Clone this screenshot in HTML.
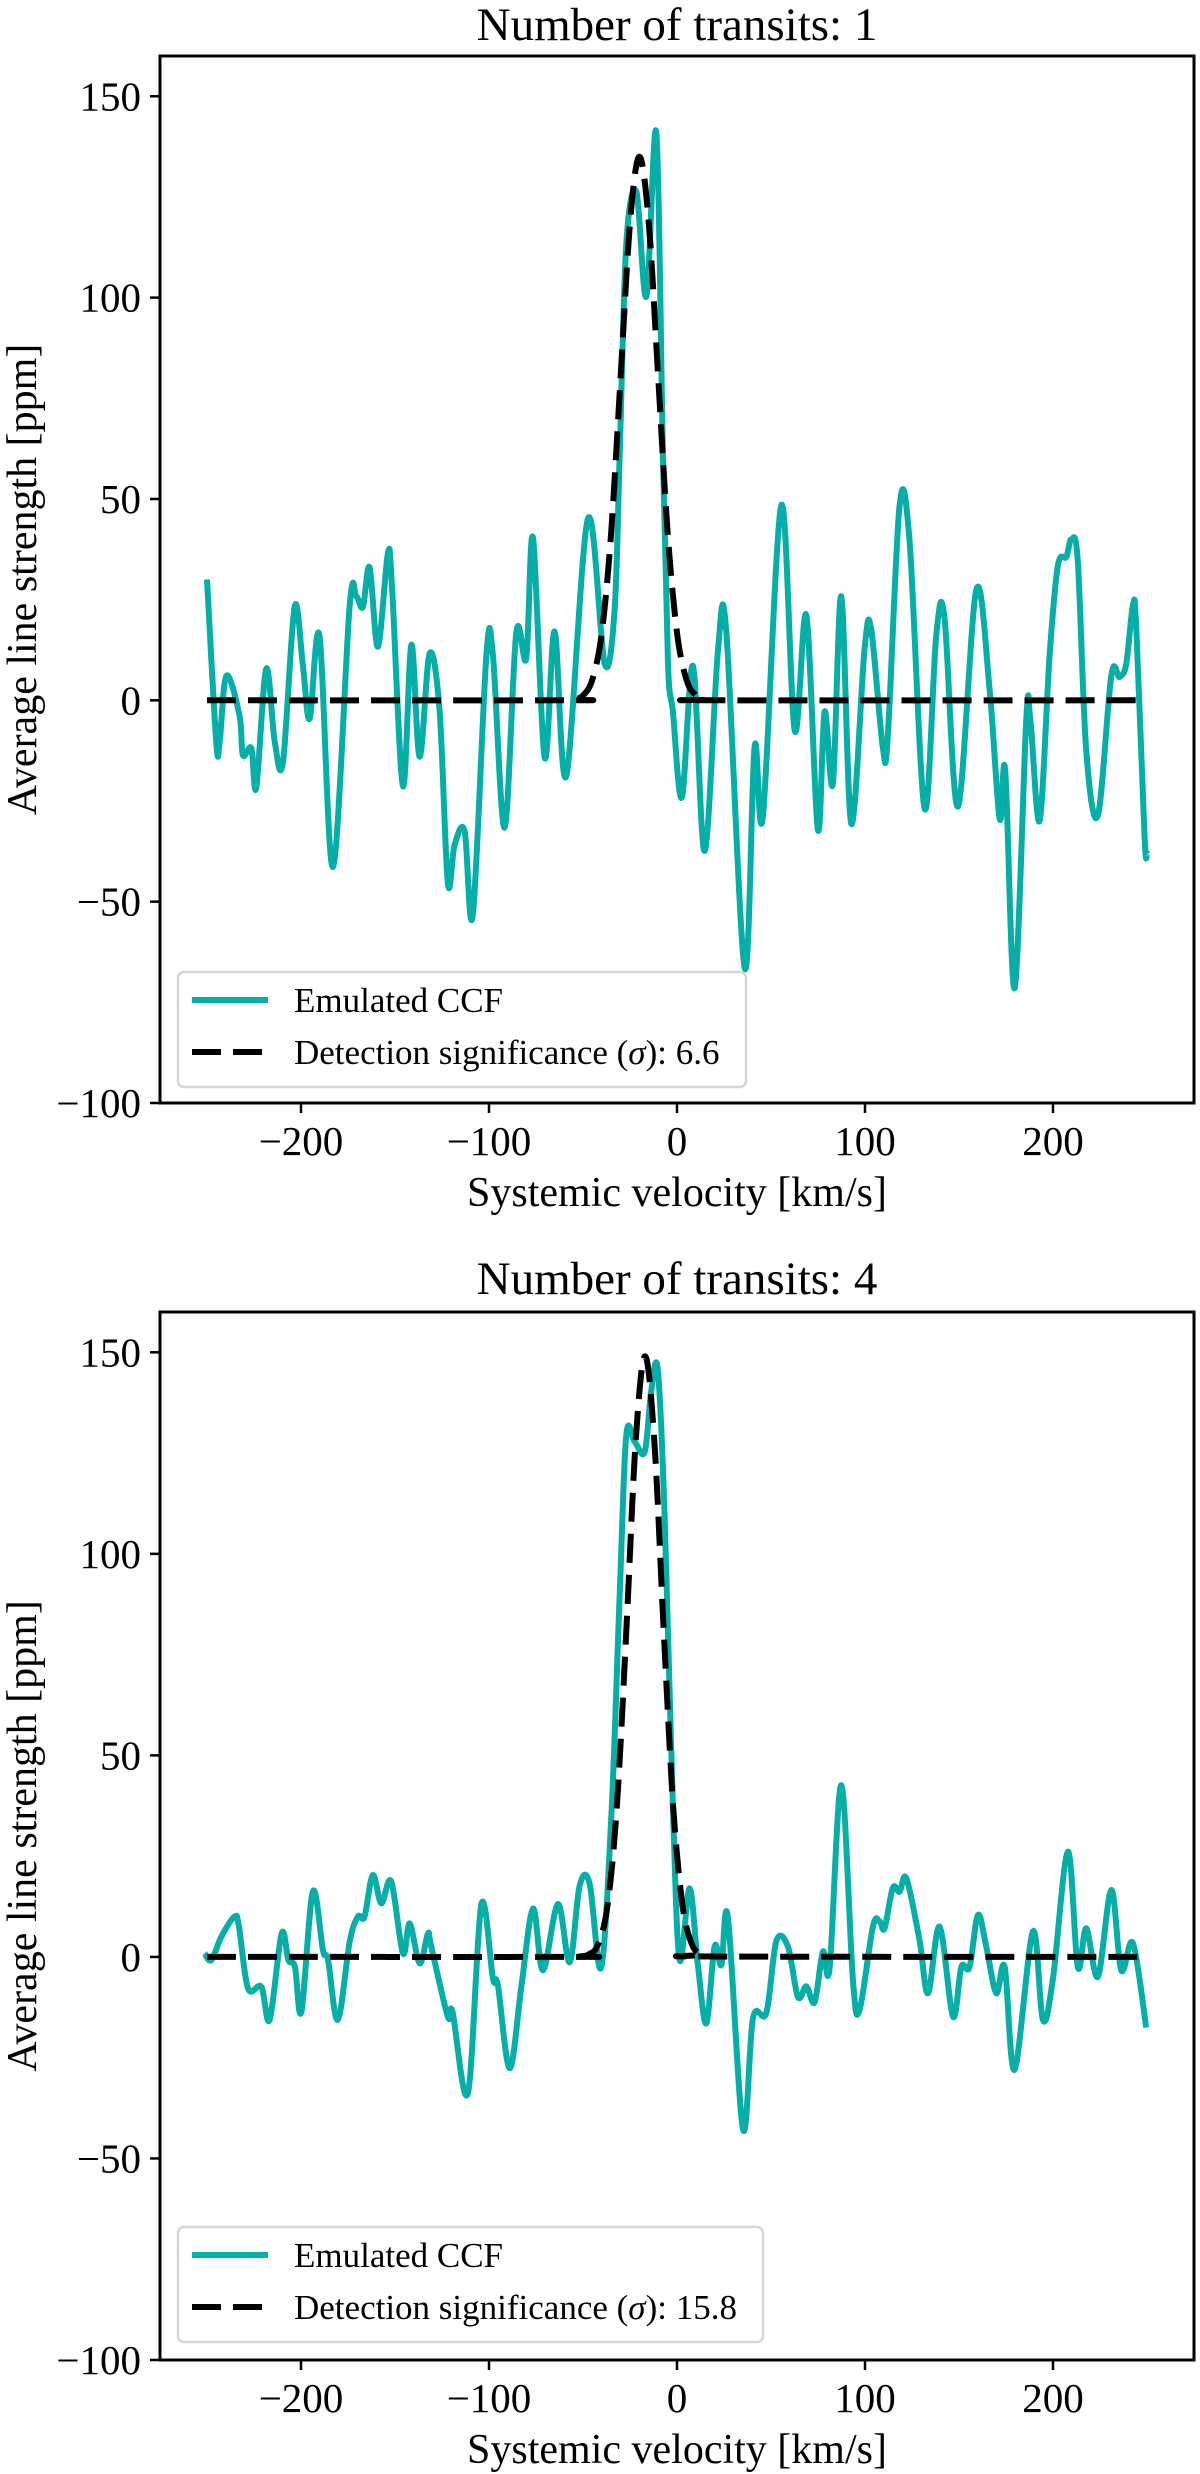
<!DOCTYPE html>
<html><head><meta charset="utf-8"><style>
html,body{margin:0;padding:0;background:#fff;}
svg{display:block;font-family:"Liberation Serif","DejaVu Serif",serif;}
</style></head><body>
<svg id="fig" width="1200" height="2474" viewBox="0 0 1200 2474" xmlns="http://www.w3.org/2000/svg"></svg>
<script>
// ---- Panel 1 data (1 transit) ----
const ccf1X = [-250,-245.1,-243.3,-239.7,-232.7,-230.9,-226.4,-223.8,-218.5,-214,-209.6,-203.4,-199,-195.4,-190.1,-183,-174.1,-170.6,-167.1,-163.5,-159.1,-153.8,-151.6,-145.8,-141.3,-136.9,-131.6,-126.3,-121.9,-118.3,-113,-108.6,-101.4,-97.9,-91.7,-85.5,-80.2,-76.6,-70.4,-65.1,-58.9,-47.4,-38.5,-33.2,-30.5,-27,-21.6,-16.3,-11,-7.5,-4.8,-2.2,2.6,8.5,14.7,21.8,26.2,36,41.3,45.7,55.5,62.6,68.8,74.9,78.5,82.9,87.4,92.7,99.8,103.3,109.5,112.2,118.4,123.7,131.7,137.9,142.3,149.4,159.2,166.3,171.6,174.6,179.6,185.8,188,192.9,198.2,202.6,207.1,209.7,213.2,217.7,223.9,231,235.4,239,242.5,244.3,248.7,250];
const ccf1Y = [30,-10.2,-10.5,6.1,-3.8,-13.6,-11.9,-21.7,7.8,-10.2,-15.3,23.2,8.6,-4.6,15.9,-41.4,23.6,25.8,23.2,33,13.3,36.5,28.3,-21.3,13.8,-14,11.6,-2.5,-45.3,-35.9,-32.4,-53.3,11.2,11.2,-31.6,16.8,10.4,40.3,-14.2,17.1,-18.8,45.1,9.1,22.4,61,113,126.3,100.3,140.9,61,9.1,-2.8,-24.1,8.5,-37.4,12.5,17.1,-66.5,-11.5,-28.8,48.4,-7.5,21.1,-32.1,-2.8,-20.7,25.8,-30.7,12.9,17.6,-11.9,-8.5,48.4,39.5,-26.9,16.3,20.6,-26.4,27.5,2.7,-29.4,-17.4,-71.5,-4.6,-5,-29.9,11.2,33.5,35.6,39.9,34.6,-12.7,-28.6,6.1,5.8,9.1,23.6,18,-34,-38];
const fit1X = [-250,-60,-55,-50,-45,-40,-35,-30,-25,-20,-15,-10,-5,0,5,10,15,20,250];
const fit1Y = [0,0,0.2,1.2,5.2,16.8,41.8,80.2,118.5,135,118.5,80.2,41.8,16.8,5.2,1.2,0.2,0,0];
const sig1 = "6.6";

// ---- Panel 2 data (4 transits) ----
const ccf2X = [-251.3,-247.7,-242.4,-235.3,-233,-228.2,-221.1,-216.7,-210.3,-206.7,-203.2,-199.8,-193.7,-188.3,-185.6,-180.4,-174.1,-169.7,-166.2,-161.8,-157.3,-152,-145.8,-142.2,-136.9,-132.5,-130.7,-121.9,-119.4,-111.2,-104.1,-97.9,-95.3,-89,-82.8,-76.6,-71.3,-63.3,-57.1,-51.8,-46.5,-40.3,-34.7,-30.5,-27,-22.6,-17.2,-13.7,-10.2,-6.6,-2.2,1.4,6.7,11.1,15.6,20,23.6,27.1,35.1,40.4,47.5,52.8,59,64.3,68.8,73.2,77.6,81.2,87.4,93.6,97.1,104.2,107.8,110.4,114.8,118.4,122,129,133.5,139.7,146.8,151.2,155.6,160.1,164.5,169.8,174.3,179.6,189.3,194.6,199.9,207.9,213.2,217.7,223.9,231,236.3,242.5,249.6];
const ccf2Y = [0.9,-0.8,5,10,7.5,-7.8,-7.4,-15.6,5.8,-0.8,-2.5,-13.6,16.2,1.6,-0.8,-15.6,3.8,10,10,20.3,13.3,18.7,0.9,8.3,-1.6,5.8,2.5,-14.8,-13.6,-33.8,13,-5.3,-6.9,-27.6,-7.4,12,-3.3,13.1,-1.3,17.6,18.2,-2.6,37.3,89.9,129.2,127.9,125.3,140.4,145.7,109.6,37.3,-0.7,17,-2,-16.5,2.6,-2,9.8,-42.8,-15.2,-13.9,3.9,2.6,-9.9,-7.3,-11.2,1.3,-2.6,42.6,-5.9,-13.2,7.5,8.8,7.1,17.1,16.2,19.5,4.2,-9,7.5,-14.8,-2.5,-2.5,10.4,2.5,-9,-2.5,-28,6.3,-15.6,-5.7,26.1,-2.5,7.1,-4.9,16.6,-3.3,3.4,-17.5];
const fit2X = [-250,-57,-52,-47,-42,-37,-32,-27,-22,-17,-12,-7,-2,3,8,13,18,250];
const fit2Y = [0,0,0.1,0.6,3.1,12.6,37.2,80.4,127.7,149,127.7,80.4,37.2,12.6,3.1,0.6,0.1,0];
const sig2 = "15.8";

const xTicks = [-200,-100,0,100,200];
const yTicks = [-100,-50,0,50,100,150];
const titles = ["Number of transits: 1","Number of transits: 4"];

const NS = "http://www.w3.org/2000/svg";
const svg = document.getElementById('fig');
function mk(tag, attrs, parent){ const e=document.createElementNS(NS,tag); for(const k in attrs) e.setAttribute(k,attrs[k]); (parent||svg).appendChild(e); return e; }

// Catmull-Rom smoothed path through screen points
function smoothPath(pts){
  let d = 'M' + pts[0][0].toFixed(1) + ',' + pts[0][1].toFixed(1);
  for (let i = 0; i < pts.length - 1; i++) {
    const p0 = pts[Math.max(0,i-1)], p1 = pts[i], p2 = pts[i+1], p3 = pts[Math.min(pts.length-1,i+2)];
    const c1x = p1[0] + (p2[0]-p0[0])/6, c1y = p1[1] + (p2[1]-p0[1])/6;
    const c2x = p2[0] - (p3[0]-p1[0])/6, c2y = p2[1] - (p3[1]-p1[1])/6;
    d += 'C' + c1x.toFixed(1)+','+c1y.toFixed(1)+' '+c2x.toFixed(1)+','+c2y.toFixed(1)+' '+p2[0].toFixed(1)+','+p2[1].toFixed(1);
  }
  return d;
}

const TEAL = "#05afa7";
const panels = [
  {top:56, bottom:1103, cx:ccf1X, cy:ccf1Y, fx:fit1X, fy:fit1Y, sig:sig1, title:titles[0], tb:40, leg:{x:178, y:972, w:568, h:115}},
  {top:1312, bottom:2360, cx:ccf2X, cy:ccf2Y, fx:fit2X, fy:fit2Y, sig:sig2, title:titles[1], tb:1294, leg:{x:178, y:2227, w:585, h:115}}
];
const L = 160, R = 1194, XMIN = -275, XMAX = 275, YMIN = -100, YMAX = 160;

panels.forEach((p, i) => {
  const g = mk('g', {});
  
  
  const sx = v => L + (v - XMIN) / (XMAX - XMIN) * (R - L);
  const sy = v => p.bottom - (v - YMIN) / (YMAX - YMIN) * (p.bottom - p.top);

  const clipId = 'clip' + i;
  const cp = mk('clipPath', {id: clipId}, g);
  mk('rect', {x:L, y:p.top, width:R-L, height:p.bottom-p.top}, cp);

  const d1 = smoothPath(p.cx.map((v,k)=>[sx(v), sy(p.cy[k])]));
  const ccf = mk('path', {d:d1, fill:'none', stroke:TEAL, 'stroke-width':6, 'stroke-linejoin':'round', 'clip-path':'url(#'+clipId+')'}, g);
  
  

  const d2 = smoothPath(p.fx.map((v,k)=>[sx(v), sy(p.fy[k])]));
  const fit = mk('path', {d:d2, fill:'none', stroke:'#000', 'stroke-width':6, 'stroke-dasharray':'29,12', 'clip-path':'url(#'+clipId+')'}, g);
  
  

  const fr = mk('rect', {x:L, y:p.top, width:R-L, height:p.bottom-p.top, fill:'none', stroke:'#000', 'stroke-width':3}, g);
  
  

  xTicks.forEach(t => {
    const x = sx(t);
    mk('line', {x1:x, x2:x, y1:p.bottom, y2:p.bottom+10, stroke:'#000', 'stroke-width':2.5}, g);
    const tx = mk('text', {x:x, y:p.bottom+52, 'font-size':41, 'text-anchor':'middle'}, g);
    
    
    tx.textContent = t < 0 ? '\u2212' + Math.abs(t) : String(t);
  });
  yTicks.forEach(t => {
    const y = sy(t);
    mk('line', {x1:L-10, x2:L, y1:y, y2:y, stroke:'#000', 'stroke-width':2.5}, g);
    const ty = mk('text', {x:L-19, y:y+14, 'font-size':41, 'text-anchor':'end'}, g);
    
    
    ty.textContent = t < 0 ? '\u2212' + Math.abs(t) : String(t);
  });

  const tt = mk('text', {x:(L+R)/2, y:p.tb, 'font-size':47, 'text-anchor':'middle'}, g);
  
  
  tt.textContent = p.title;

  const xl = mk('text', {x:(L+R)/2, y:p.bottom+103, 'font-size':42, 'text-anchor':'middle'}, g);
  
  
  xl.textContent = 'Systemic velocity [km/s]';

  const yc = (p.top + p.bottom) / 2;
  const yl = mk('text', {x:0, y:0, 'font-size':42, 'text-anchor':'middle', transform:'translate(36,'+yc+') rotate(-90)'}, g);
  
  
  yl.textContent = 'Average line strength [ppm]';

  const lg = mk('g', {}, g);
  
  
  mk('rect', {x:p.leg.x, y:p.leg.y, width:p.leg.w, height:p.leg.h, rx:6, fill:'#fff', 'fill-opacity':0.8, stroke:'#d6d6d6', 'stroke-width':2.5}, lg);
  const r1 = p.leg.y + 28, r2 = p.leg.y + 80;
  const e1 = mk('g', {}, lg);
  
  
  mk('line', {x1:192, x2:268, y1:r1, y2:r1, stroke:TEAL, 'stroke-width':6}, e1);
  const t1 = mk('text', {x:294, y:r1+12, 'font-size':35}, e1);
  t1.textContent = 'Emulated CCF';
  const e2 = mk('g', {}, lg);
  
  
  mk('line', {x1:192, x2:268, y1:r2, y2:r2, stroke:'#000', 'stroke-width':6, 'stroke-dasharray':'29,12'}, e2);
  const t2 = mk('text', {x:294, y:r2+12, 'font-size':35}, e2);
  t2.innerHTML = 'Detection significance (<tspan font-style="italic">σ</tspan>): ' + p.sig;
});
</script>
</body></html>
